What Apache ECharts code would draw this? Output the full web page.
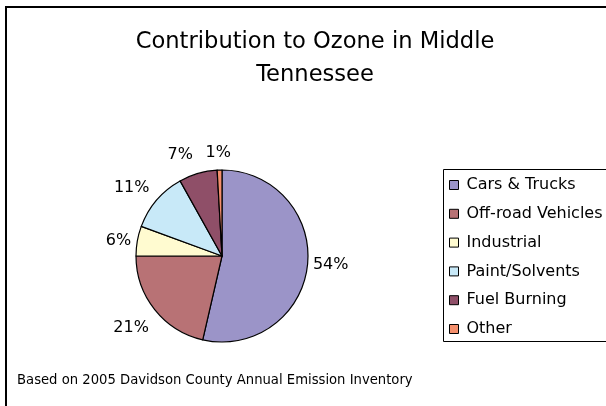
<!DOCTYPE html>
<html><head><meta charset="utf-8">
<script src="https://cdn.jsdelivr.net/npm/echarts@6/dist/echarts.min.js"></script>
<style>html,body{margin:0;padding:0;background:#fff}#c{width:606px;height:406px}</style>
</head><body><div id="c"></div>
<script>
const categories = ['Cars & Trucks','Off-road Vehicles','Industrial','Paint/Solvents','Fuel Burning','Other'];
const values = [53.6, 21.4, 5.6, 11.3, 7.2, 0.9];
const colors = ['#9b94c8','#b87275','#fffbd0','#c8e9f8','#8f4f68','#f48f6c'];
const titleText = 'Contribution to Ozone in Middle\nTennessee';
const footText = 'Based on 2005 Davidson County Annual Emission Inventory';

const font = '"DejaVu Sans", Verdana, sans-serif';
const PIE_C = [222, 256];
const PIE_R = 86;
// small label nudges to mimic Excel's label placement
const labelNudge = {0: [0, -3], 1: [-3, 2], 2: [0, 3], 3: [-5, 5], 4: [-13, -2], 5: [-1, -5]};
const chart = echarts.init(document.getElementById('c'), null, {renderer:'canvas'});
chart.setOption({
  animation:false,
  backgroundColor:'#fff',
  title:{text:titleText,left:310,textAlign:'center',top:21,
    textStyle:{fontFamily:font,fontSize:22.6,fontWeight:'normal',color:'#000',lineHeight:33}},
  graphic:[
    {type:'rect',shape:{x:6,y:7,width:640,height:440},style:{fill:null,stroke:'#000',lineWidth:2},z:-1},
    {type:'rect',shape:{x:443.5,y:169.5,width:200,height:172},style:{fill:null,stroke:'#000',lineWidth:1},z:-1},
    {type:'text',left:17,top:374,style:{text:footText,fontFamily:font,fontSize:13.2,fill:'#000'}}
  ],
  legend:{orient:'vertical',left:444,top:172,itemWidth:9,itemHeight:9,itemGap:12.8,
    icon:'rect',
    itemStyle:{borderColor:'#000',borderWidth:1},
    textStyle:{fontFamily:font,fontSize:16,color:'#000',padding:[0,0,0,3]},
    data:categories},
  series:[{
    type:'pie',center:PIE_C,radius:PIE_R,startAngle:90,clockwise:true,
    avoidLabelOverlap:false,
    label:{show:true,position:'outside',formatter:p=>Math.round(p.percent)+'%',
      fontFamily:font,fontSize:16,color:'#000'},
    labelLine:{show:true,length:8,length2:0,lineStyle:{opacity:0}},
    labelLayout:function(p){
      const pts = p.labelLinePoints;
      if(!pts) return {};
      const ex = pts[0][0], ey = pts[0][1];
      const dx = (ex-PIE_C[0])/PIE_R, dy = (ey-PIE_C[1])/PIE_R;
      const hw = p.labelRect.width/2, hh = p.labelRect.height/2;
      const off = Math.abs(dx)*hw + Math.abs(dy)*hh + 4 + 7*Math.abs(dx*dy);
      const n = labelNudge[p.dataIndex] || [0,0];
      return {x: ex+dx*off+n[0], y: ey+dy*off+n[1], align:'center', verticalAlign:'middle'};
    },
    itemStyle:{borderColor:'#000',borderWidth:1.2},
    emphasis:{disabled:true},
    data:categories.map((n,i)=>({name:n,value:values[i],itemStyle:{color:colors[i]}}))
  }]
});
</script></body></html>
